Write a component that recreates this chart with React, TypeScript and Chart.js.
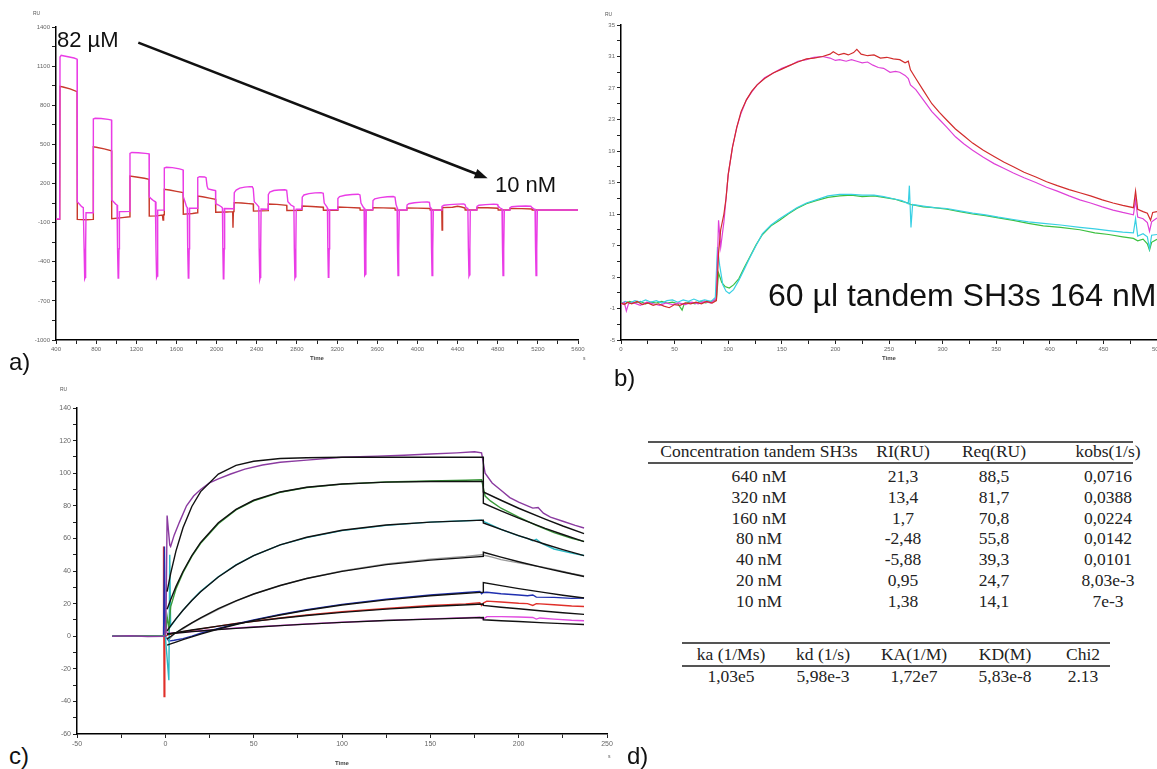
import React, { useEffect, useRef } from 'react';
import { Chart, registerables } from 'chart.js';
Chart.register(...registerables);

type Pt = [number, number];

// ---------------- Panel a ----------------
const aXLabels = [400, 800, 1200, 1600, 2000, 2400, 2800, 3200, 3600, 4000, 4400, 4800, 5200, 5600];
const aYLabels = [-1000, -700, -400, -100, 200, 500, 800, 1100, 1400];
const aMagenta: Pt[] = [
  [400,-72],[437,-72],[440,1170],[452,1183],[470,1180],[520,1172],[580,1162],[610,1153],[612,60],[630,45],[650,28],[660,20],[672,15],[680,-300],[686,-530],[691,-520],[695,-300],[699,-24],[720,-24],[770,-24],
  [772,694],[790,700],[850,698],[920,692],[953,687],[955,73],[975,58],[995,42],[1008,35],[1013,-300],[1019,-525],[1024,-515],[1028,-300],[1032,-16],[1080,-16],[1135,-14],
  [1137,430],[1155,438],[1220,436],[1290,431],[1327,428],[1329,99],[1350,82],[1375,66],[1390,60],[1396,-300],[1402,-520],[1407,-510],[1411,-300],[1415,-4],[1477,-3],
  [1479,318],[1500,324],[1560,322],[1630,312],[1666,304],[1668,99],[1685,60],[1700,22],[1708,15],[1712,-300],[1718,-525],[1723,-515],[1727,-300],[1731,10],[1810,10],
  [1812,245],[1830,252],[1880,250],[1895,245],[1905,180],[1915,158],[1960,150],[1989,145],[1991,45],[2020,35],[2050,20],[2058,12],[2062,-300],[2067,-530],[2072,-520],[2076,-300],[2080,8],[2173,6],
  [2176,130],[2195,150],[2230,165],[2280,172],[2330,176],[2355,175],[2365,160],[2375,60],[2400,40],[2420,22],[2424,-300],[2430,-535],[2435,-520],[2439,-300],[2443,4],[2512,3],
  [2515,115],[2530,135],[2570,146],[2620,150],[2680,152],[2698,148],[2710,60],[2740,35],[2770,22],[2774,-300],[2780,-525],[2785,-515],[2789,-300],[2793,2],[2850,2],
  [2853,95],[2870,112],[2920,122],[2980,128],[3040,130],[3062,125],[3072,50],[3095,25],[3104,12],[3108,-300],[3113,-520],[3118,-510],[3122,-300],[3126,0],[3205,0],
  [3208,85],[3225,100],[3280,110],[3350,116],[3410,118],[3428,112],[3438,50],[3460,20],[3469,12],[3473,-300],[3478,-505],[3483,-495],[3487,-300],[3491,-2],[3555,-2],
  [3558,70],[3575,82],[3630,92],[3700,98],[3760,100],[3777,95],[3787,40],[3798,15],[3802,-300],[3807,-505],[3812,-495],[3816,-300],[3820,-3],[3895,-3],
  [3897,35],[3915,45],[3970,52],[4040,57],[4100,58],[4120,55],[4126,20],[4137,10],[4141,-300],[4146,-505],[4151,-495],[4155,-300],[4159,-4],[4243,-4],
  [4245,25],[4265,33],[4320,38],[4400,42],[4460,43],[4474,38],[4485,15],[4503,8],[4508,-300],[4514,-510],[4519,-500],[4523,-300],[4527,-4],[4592,-4],
  [4594,25],[4612,33],[4680,38],[4760,42],[4795,40],[4803,28],[4825,12],[4843,5],[4848,-300],[4853,-505],[4858,-495],[4862,-300],[4866,-4],[4921,-4],
  [4923,15],[4940,22],[5000,25],[5080,27],[5130,26],[5142,15],[5160,5],[5172,2],[5177,-300],[5182,-505],[5187,-495],[5191,-300],[5195,-3],[5600,-3]
];
const aRed: Pt[] = [
  [400,-75],[437,-75],[440,945],[470,940],[540,925],[610,904],[612,-75],[700,-78],[770,-75],
  [772,482],[800,478],[880,465],[953,451],[955,-70],[1060,-62],[1135,-55],
  [1137,257],[1200,250],[1280,240],[1327,232],[1329,-50],[1400,-48],[1460,-42],[1466,-80],[1472,-40],[1477,-40],
  [1479,156],[1530,150],[1600,140],[1666,130],[1668,-35],[1760,-30],[1810,-24],
  [1812,104],[1860,98],[1930,88],[1989,79],[1991,-20],[2100,-18],[2160,-16],[2163,-140],[2167,-16],[2173,-15],
  [2176,53],[2250,50],[2320,46],[2365,43],[2367,-12],[2440,-10],[2512,-8],
  [2515,43],[2600,40],[2698,33],[2700,-7],[2850,-6],
  [2853,28],[2950,24],[3062,18],[3064,-5],[3205,-5],
  [3208,20],[3300,17],[3428,12],[3430,-4],[3555,-4],
  [3558,15],[3660,13],[3777,10],[3779,-4],[3895,-4],
  [3897,12],[4000,11],[4126,8],[4128,-3],[4243,-3],[4246,-157],[4250,-3],
  [4252,15],[4350,18],[4400,25],[4440,20],[4474,12],[4476,-3],[4592,-3],
  [4594,15],[4700,14],[4803,10],[4805,-3],[4921,-3],
  [4923,8],[5040,7],[5142,5],[5144,-3],[5600,-3]
];
const aArrowFrom: Pt = [1220, 1280];
const aArrowTo: Pt = [4700, 240];

// ---------------- Panel b ----------------
const bXLabels = [0, 50, 100, 150, 200, 250, 300, 350, 400, 450, 500];
const bYLabels = [-5, -1, 3, 7, 11, 15, 19, 23, 27, 31, 35];
const bRed: Pt[] = [
  [0,-0.3],[3,-0.5],[6,-0.2],[10,-0.4],[15,-0.1],[20,-0.5],[25,-0.3],[30,-0.6],[35,-0.4],[40,-0.7],[45,-0.9],[50,-0.5],[55,-0.6],[60,-0.3],[65,-0.4],[70,-0.2],[75,-0.4],[80,-0.1],[85,-0.3],[89,0],
  [91,6],[93,9],[96,11],[98,13],[100,16],[104,19.5],[108,22],[112,24],[117,25.5],[122,26.6],[127,27.4],[134,28.2],[142,28.9],[150,29.4],[158,29.9],[165,30.3],[173,30.7],[180,30.8],[188,31],[195,31.3],[198,31.6],[203,31.2],[208,31.4],[212,31.2],[217,31.5],[220,31.9],[224,31.3],[230,31.1],[236,31.2],[242,30.8],[248,30.9],[254,30.7],[260,30.6],[265,30.2],[268,30.4],
  [270,29.3],[275,28.2],[282,26.7],[290,25],[297,23.9],[304,22.9],[312,21.8],[320,20.9],[328,20],[338,19.1],[348,18.3],[357,17.6],[366,17],[376,16.3],[387,15.7],[397,15.1],[407,14.6],[418,14.1],[428,13.7],[438,13.3],[449,12.8],[459,12.4],[468,12.1],[478,11.8],[480,13.9],[482,11.6],[487,11.3],[491,11.1],[494,10.2],[496,11.2],[500,11.3]
];
const bMagenta: Pt[] = [
  [0,-0.5],[3,-0.2],[5,-1.3],[7,-0.4],[12,-0.3],[18,-0.6],[24,-0.2],[30,-0.4],[36,-0.6],[42,-0.3],[48,-0.5],[54,-0.3],[60,-0.5],[66,-0.2],[72,-0.4],[78,-0.1],[84,-0.3],[89,0.3],
  [91,10.2],[93,6.8],[96,10],[98,13],[100,16],[104,19.5],[108,22],[112,23.8],[117,25.5],[122,26.5],[127,27.4],[134,28.3],[142,28.9],[150,29.5],[158,29.9],[165,30.4],[173,30.6],[180,30.9],[188,31],[195,30.8],[200,30.5],[204,30.6],[210,30.4],[215,30.6],[220,30.4],[225,30.2],[230,30.3],[235,29.9],[240,29.6],[245,29.5],[251,29],[256,29.1],[260,29],[265,28.6],[268,28.2],
  [270,27.4],[275,26.8],[282,25.5],[290,24],[297,23],[304,22],[312,20.8],[320,19.9],[328,19.1],[338,18.2],[348,17.4],[357,16.8],[366,16.2],[376,15.6],[387,15],[397,14.4],[407,13.9],[418,13.3],[428,12.8],[438,12.4],[449,11.9],[459,11.5],[468,11.2],[478,10.9],[480,12.8],[482,10.6],[487,10.4],[491,9.9],[493,8.8],[495,10],[500,10.5]
];
const bGreen: Pt[] = [
  [0,-0.2],[4,-0.4],[8,-0.1],[13,-0.3],[18,-0.1],[23,-0.4],[28,-0.2],[33,-0.3],[38,-0.1],[43,-0.3],[48,-0.2],[53,-0.4],[57,-1.2],[59,-0.4],[64,-0.2],[69,-0.4],[74,-0.1],[79,-0.3],[84,-0.1],[89,0.1],
  [91,3.5],[94,2.3],[97,1.8],[101,1.6],[105,2],[110,2.8],[115,4.2],[120,5.5],[126,7.1],[132,8.4],[140,9.5],[148,10.2],[156,11],[164,11.7],[173,12.3],[182,12.7],[193,13.1],[204,13.3],[215,13.4],[225,13.2],[236,13.3],[245,13.1],[255,12.9],[262,12.6],[268,12.4],
  [270,12.2],[275,12.1],[282,11.9],[292,11.8],[304,11.6],[316,11.3],[328,11],[340,10.8],[352,10.5],[366,10.2],[380,9.8],[394,9.5],[410,9.3],[428,9],[442,8.6],[455,8.4],[468,8.1],[478,7.9],[482,7.6],[487,7.8],[491,7.2],[493,6.4],[495,7.4],[500,7.8]
];
const bCyan: Pt[] = [
  [0,-0.4],[4,-0.1],[8,-0.3],[13,0],[18,-0.2],[23,0.1],[28,-0.2],[33,0],[38,-0.3],[43,0],[48,0.1],[53,-0.2],[58,0.1],[63,-0.1],[68,0.2],[73,-0.1],[78,0.1],[84,-0.1],[88,0.4],
  [90,6.8],[92,4.5],[95,2],[98,1.2],[101,0.9],[105,1.4],[110,2.6],[115,4],[120,5.4],[126,7],[132,8.5],[140,9.6],[148,10.4],[156,11.1],[164,11.8],[173,12.4],[182,12.8],[193,13.3],[204,13.5],[215,13.5],[225,13.4],[236,13.4],[245,13.2],[255,12.9],[262,12.7],[268,12.3],
  [269,14.6],[270.5,9.3],[272,12.2],[282,12],[292,11.8],[304,11.7],[316,11.4],[328,11.1],[340,10.9],[352,10.6],[366,10.3],[380,10],[394,9.8],[410,9.6],[428,9.3],[442,9.1],[455,8.9],[468,8.7],[478,8.6],[480,10.4],[482,8.2],[487,8.5],[491,8.1],[493,6.6],[495,8.3],[500,8.4]
];

// ---------------- Panel c ----------------
const cXLabels = [-50, 0, 50, 100, 150, 200, 250];
const cYLabels = [-60, -40, -20, 0, 20, 40, 60, 80, 100, 120, 140];
const c640: Pt[] = [[-30,0],[-20,0.3],[-10,-0.2],[0,0],[0.5,20],[1,74],[2.5,56],[3,55],[5,62],[8,70],[12,80],[16,86],[20,90],[25,94],[30,96.5],[37,99.5],[45,102.5],[55,105],[65,106.7],[80,108],[100,109.8],[120,110.5],[135,111],[150,111.8],[165,112.5],[175,113.2],[179,112.5],[181,100],[185,94],[190,89.5],[195,85],[200,82.3],[205,80],[208,78.6],[211,78.9],[214,75.5],[218,73],[225,70.5],[232,68],[237,66.4]];
const c320: Pt[] = [[-30,0],[-15,0.2],[0,0],[1,12],[2,5],[3,18],[6,29],[10,39],[15,49],[20,57],[30,69],[40,77.5],[50,83],[65,88.3],[80,91.2],[100,93.3],[125,94.6],[150,95.2],[170,95.7],[179,96],[181,86],[184,83],[190,78.5],[200,73],[210,68],[220,63.5],[230,60],[237,58.2]];
const c160: Pt[] = [[-30,0],[0,0],[2,-27],[2.5,50],[3,6],[6,10.5],[10,16],[15,22],[20,27.5],[30,36.5],[40,43.8],[50,49.5],[65,56],[80,60.5],[100,64.8],[125,68],[150,70],[170,70.8],[179,71.2],[181,70],[190,65.5],[200,61.5],[205,60],[208,58.5],[210,59.5],[213,57],[220,53.5],[230,51],[237,49.5]];
const c80: Pt[] = [[-30,0],[0,0],[2,-2],[5,1.5],[10,4.5],[15,8],[20,11],[30,16.5],[40,21.5],[50,25.8],[65,31],[80,35.5],[100,40],[125,44.3],[150,47.3],[170,49],[179,50],[181,49.5],[185,48.5],[190,47],[200,45],[210,43],[213,42.5],[220,41],[230,38.5],[237,37]];
const c40: Pt[] = [[-30,0],[-1,0],[-0.5,55],[0,0],[2,-3],[5,-2.5],[10,-1.5],[15,0],[20,1.8],[30,4.8],[40,7.5],[50,10],[65,13.3],[80,16.2],[100,19.5],[125,22.7],[150,25.3],[170,26.8],[178,27.5],[179,26],[180,26.8],[182,27],[190,26],[200,25.3],[205,24.8],[208,25.3],[210,24],[220,23.8],[230,23.2],[237,23.4]];
const c20: Pt[] = [[-30,0],[-1.2,0],[-1,55],[-0.7,-37],[-0.3,0],[2,1],[5,1.8],[10,2.8],[20,4.5],[30,6.2],[40,7.8],[50,9.2],[65,11.2],[80,13],[100,15],[125,17],[150,18.8],[170,19.8],[178,20.5],[179,18.8],[180,20.3],[182,21.5],[190,21],[200,20.2],[205,20],[208,18.9],[210,20],[220,19.3],[230,18.5],[237,18.2]];
const c10: Pt[] = [[-30,0],[0,0],[0.5,8],[1,2],[3,1.8],[10,2.4],[20,3.3],[30,4.2],[40,5],[50,5.6],[65,6.6],[80,7.5],[100,8.6],[125,9.7],[150,10.6],[170,11.3],[178,11.6],[180,10.5],[182,12],[190,12],[200,11.8],[208,11.5],[210,10.5],[212,11.2],[220,10.5],[230,9.8],[237,9.5]];
const fit640: Pt[] = [[1,27.4],[3,38.4],[6,52.2],[10,66.5],[15,79.6],[20,88.7],[30,99.5],[40,104.8],[50,107.3],[65,109],[80,109.5],[100,109.8],[180,109.8],[180,88.5],[190,83.4],[200,78.5],[215,71.8],[225,67.6],[237,62.9]];
const fit320: Pt[] = [[1,16.5],[3,22.4],[6,30.4],[10,39.7],[15,49.4],[20,57.5],[30,69.6],[40,77.8],[50,83.4],[65,88.5],[80,91.4],[100,93.4],[125,94.5],[150,94.9],[180,95],[180,81.6],[190,76.9],[200,72.4],[215,66.2],[225,62.4],[237,58]];
const fit160: Pt[] = [[1,3.3],[3,6.3],[6,10.6],[10,15.9],[15,21.9],[20,27.3],[30,36.3],[40,43.6],[50,49.4],[65,56],[80,60.7],[100,65],[125,68.2],[150,70],[180,71.2],[180,69.5],[190,65.5],[200,61.7],[215,56.4],[225,53.1],[237,49.4]];
const fit80: Pt[] = [[1,-1.7],[3,-0.2],[6,2.1],[10,4.9],[15,8.2],[20,11.3],[30,16.9],[40,21.7],[50,25.9],[65,31.1],[80,35.4],[100,39.8],[125,43.9],[150,46.7],[180,49],[180,51.5],[190,48.5],[200,45.7],[215,41.8],[225,39.4],[237,36.6]];
const fit40: Pt[] = [[1,-5.5],[3,-4.7],[6,-3.6],[10,-2.1],[15,-0.4],[20,1.3],[30,4.4],[40,7.2],[50,9.7],[65,13],[80,15.9],[100,19.1],[125,22.3],[150,24.8],[180,27],[180,32.9],[190,31],[200,29.2],[215,26.7],[225,25.1],[237,23.4]];
const fit20: Pt[] = [[1,1.2],[3,1.5],[6,2.1],[10,2.9],[15,3.8],[20,4.6],[30,6.2],[40,7.7],[50,9.1],[65,11],[80,12.7],[100,14.6],[125,16.6],[150,18.2],[180,19.8],[180,18.9],[190,17.8],[200,16.8],[215,15.3],[225,14.4],[237,13.4]];
const fit10: Pt[] = [[1,1.5],[3,1.7],[6,2],[10,2.3],[15,2.8],[20,3.2],[30,4.1],[40,4.8],[50,5.5],[65,6.5],[80,7.4],[100,8.5],[125,9.6],[150,10.5],[180,11.5],[180,10.1],[190,9.5],[200,9],[215,8.2],[225,7.7],[237,7.2]];

// ---------------- Panel d (tables) ----------------
const concHeader = ['Concentration tandem SH3s', 'RI(RU)', 'Req(RU)', 'kobs(1/s)'];
const concLabels = ['640 nM', '320 nM', '160 nM', '80 nM', '40 nM', '20 nM', '10 nM'];
const riValues = ['21,3', '13,4', '1,7', '-2,48', '-5,88', '0,95', '1,38'];
const reqValues = ['88,5', '81,7', '70,8', '55,8', '39,3', '24,7', '14,1'];
const kobsValues = ['0,0716', '0,0388', '0,0224', '0,0142', '0,0101', '8,03e-3', '7e-3'];
const kinHeader = ['ka (1/Ms)', 'kd (1/s)', 'KA(1/M)', 'KD(M)', 'Chi2'];
const kinValues = ['1,03e5', '5,98e-3', '1,72e7', '5,83e-8', '2.13'];

const SANS = "'Liberation Sans', Arial, sans-serif";
const SERIF = "'Liberation Serif', 'Times New Roman', serif";

const xy = (a: Pt[]) => a.map(([x, y]) => ({ x, y }));
const line = (data: Pt[], color: string, width = 1.3) => ({
  data: xy(data), borderColor: color, backgroundColor: color, borderWidth: width,
  pointRadius: 0, showLine: true, fill: false, tension: 0,
});

function axis(kind: 'x' | 'y', min: number, max: number, step: number, labels: number[], fs: number, size: number, title?: { text: string; pad: number }) {
  return {
    type: 'linear', min, max,
    border: { display: true, color: '#000', width: 1.5 },
    grid: { display: true, drawOnChartArea: false, drawTicks: true, tickLength: 4, color: '#222', lineWidth: 1 },
    ticks: {
      stepSize: step, autoSkip: false, maxRotation: 0, minRotation: 0, padding: 2, maxTicksLimit: 1000,
      color: '#666', font: { size: fs, family: SANS },
      callback: (v: number) => { const l = labels.find((q) => Math.abs(q - v) < 1e-6); return l === undefined ? '' : String(l); },
    },
    title: title ? { display: true, text: title.text, color: '#444', font: { size: 6, family: SANS, weight: 'bold' }, padding: { top: 0, bottom: title.pad } } : { display: false },
    afterFit: (s: any) => { if (kind === 'y') s.width = size; else s.height = size; },
  };
}

function baseOptions(padding: any, x: any, y: any) {
  return {
    responsive: false, animation: false, devicePixelRatio: 1,
    layout: { padding },
    plugins: { legend: { display: false }, tooltip: { enabled: false } },
    events: [],
    scales: { x, y },
  };
}

const arrowPlugin = {
  id: 'arrowAnno',
  afterDatasetsDraw(chart: any) {
    const { ctx, scales } = chart;
    const x0 = scales.x.getPixelForValue(aArrowFrom[0]);
    const y0 = scales.y.getPixelForValue(aArrowFrom[1]);
    const x1 = scales.x.getPixelForValue(aArrowTo[0]);
    const y1 = scales.y.getPixelForValue(aArrowTo[1]);
    const ang = Math.atan2(y1 - y0, x1 - x0);
    const hl = 13, hw = 5;
    ctx.save();
    ctx.strokeStyle = '#111'; ctx.fillStyle = '#111'; ctx.lineWidth = 2.6;
    ctx.beginPath(); ctx.moveTo(x0, y0);
    ctx.lineTo(x1 - Math.cos(ang) * hl * 0.8, y1 - Math.sin(ang) * hl * 0.8); ctx.stroke();
    ctx.beginPath();
    ctx.moveTo(x1, y1);
    ctx.lineTo(x1 - Math.cos(ang) * hl + Math.sin(ang) * hw, y1 - Math.sin(ang) * hl - Math.cos(ang) * hw);
    ctx.lineTo(x1 - Math.cos(ang) * hl - Math.sin(ang) * hw, y1 - Math.sin(ang) * hl + Math.cos(ang) * hw);
    ctx.closePath(); ctx.fill();
    ctx.restore();
  },
};

const abs = (l: number, t: number, extra: any = {}) => ({ position: 'absolute' as const, left: l, top: t, whiteSpace: 'nowrap' as const, ...extra });

export default function App() {
  const refA = useRef<HTMLCanvasElement>(null);
  const refB = useRef<HTMLCanvasElement>(null);
  const refC = useRef<HTMLCanvasElement>(null);

  useEffect(() => {
    const charts: Chart[] = [];
    charts.push(new Chart(refA.current as HTMLCanvasElement, {
      type: 'scatter',
      data: { datasets: [line(aMagenta, '#ea3ce6', 1.4), line(aRed, '#c83a2c', 1.4)] as any },
      options: baseOptions({ left: 0, top: 27, right: 22, bottom: 0 },
        axis('x', 400, 5600, 200, aXLabels, 6, 35, { text: 'Time', pad: 13 }),
        axis('y', -1000, 1400, 150, aYLabels, 6, 56)) as any,
      plugins: [arrowPlugin],
    }));
    charts.push(new Chart(refB.current as HTMLCanvasElement, {
      type: 'scatter',
      data: { datasets: [line(bRed, '#d22c2c', 1.2), line(bMagenta, '#de40d8', 1.2), line(bCyan, '#38d0e4', 1.2), line(bGreen, '#3cc040', 1.2)] as any },
      options: baseOptions({ left: 0, top: 25, right: 18, bottom: 0 },
        axis('x', 0, 500, 25, bXLabels, 6, 35, { text: 'Time', pad: 13 }),
        axis('y', -5, 35, 2, bYLabels, 6, 36)) as any,
    }));
    charts.push(new Chart(refC.current as HTMLCanvasElement, {
      type: 'scatter',
      data: {
        datasets: [
          line(fit640, '#111', 1.4), line(fit320, '#111', 1.4), line(fit160, '#111', 1.4), line(fit80, '#111', 1.4),
          line(fit40, '#111', 1.4), line(fit20, '#111', 1.4), line(fit10, '#111', 1.4),
          line(c640, '#8a3aa0', 1.4), line(c320, '#3a9a3a', 1.4), line(c160, '#2ab8c4', 1.4), line(c80, '#9a9a9a', 1.4),
          line(c40, '#1f2fb0', 1.4), line(c20, '#e0302a', 1.4), line(c10, '#e04ae0', 1.4),
        ] as any,
      },
      options: baseOptions({ left: 0, top: 23, right: 33, bottom: 0 },
        axis('x', -50, 250, 25, cXLabels, 7, 36, { text: 'Time', pad: 3 }),
        axis('y', -60, 140, 10, cYLabels, 7, 37)) as any,
    }));
    return () => charts.forEach((c) => c.destroy());
  }, []);

  const tiny = { fontSize: 5, color: '#555', fontFamily: SANS };
  const cell = (x: number, y: number, text: string, key: string) => (
    <div key={key} style={abs(x, y, { transform: 'translate(-50%, -50%)', fontFamily: SERIF, fontSize: 17.5, color: '#222', lineHeight: 1 })}>{text}</div>
  );
  const t1Cols = [759, 903, 994, 1108];
  const t2Cols = [731, 823, 914, 1005, 1083];
  const t1Rows = concLabels.map((c, i) => [c, riValues[i], reqValues[i], kobsValues[i]]);

  return (
    <div style={{ position: 'fixed', left: 0, top: 0, width: 1157, height: 769, overflow: 'hidden', background: '#fff' }}>
      <canvas ref={refA} width={600} height={375} style={{ position: 'absolute', left: 0, top: 0, width: 600, height: 375 }} />
      <canvas ref={refB} width={590} height={375} style={{ position: 'absolute', left: 585, top: 0, width: 590, height: 375 }} />
      <canvas ref={refC} width={600} height={385} style={{ position: 'absolute', left: 40, top: 385, width: 600, height: 385 }} />

      <div style={abs(33, 10, tiny)}>RU</div>
      <div style={abs(605, 11, tiny)}>RU</div>
      <div style={abs(60, 386, tiny)}>RU</div>
      <div style={abs(583, 355, tiny)}>s</div>
      <div style={abs(608, 753, tiny)}>s</div>

      <div style={abs(57, 29, { fontFamily: SANS, fontSize: 22, color: '#111', lineHeight: 1 })}>82 µM</div>
      <div style={abs(495, 174, { fontFamily: SANS, fontSize: 22, color: '#111', lineHeight: 1 })}>10 nM</div>
      <div style={abs(768, 279, { fontFamily: SANS, fontSize: 32, color: '#111', lineHeight: 1 })}>60 µl tandem SH3s 164 nM</div>

      <div style={abs(9, 350, { fontFamily: SANS, fontSize: 24, color: '#111', lineHeight: 1 })}>a)</div>
      <div style={abs(614, 366, { fontFamily: SANS, fontSize: 24, color: '#111', lineHeight: 1 })}>b)</div>
      <div style={abs(9, 744, { fontFamily: SANS, fontSize: 24, color: '#111', lineHeight: 1 })}>c)</div>
      <div style={abs(627, 744, { fontFamily: SANS, fontSize: 24, color: '#111', lineHeight: 1 })}>d)</div>

      <div style={abs(648, 441, { width: 485, height: 2, background: '#555' })} />
      <div style={abs(648, 462, { width: 485, height: 1.5, background: '#555' })} />
      {concHeader.map((h, i) => cell(t1Cols[i], 452, h, 'h' + i))}
      {t1Rows.map((r, j) => r.map((v, i) => cell(t1Cols[i], 477 + j * 20.8, v, 'r' + j + '_' + i)))}

      <div style={abs(682, 642, { width: 428, height: 2, background: '#555' })} />
      <div style={abs(682, 665, { width: 428, height: 1.5, background: '#555' })} />
      {kinHeader.map((h, i) => cell(t2Cols[i], 655, h, 'k' + i))}
      {kinValues.map((v, i) => cell(t2Cols[i], 677, v, 'v' + i))}
    </div>
  );
}
